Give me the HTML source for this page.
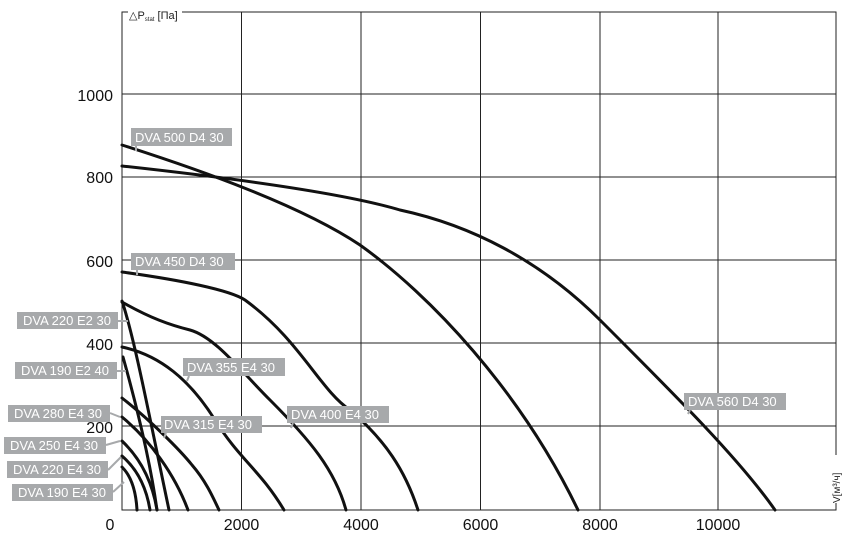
<!DOCTYPE html>
<html><head><meta charset="utf-8"><style>
body{margin:0;background:#fff}
svg{display:block;font-family:"Liberation Sans",sans-serif}
</style></head><body>
<svg width="846" height="540" viewBox="0 0 846 540">
<g stroke="#222" stroke-width="1" fill="none">
<rect x="122" y="12" width="714" height="498"/>
<line x1="241.5" y1="12" x2="241.5" y2="510"/>
<line x1="361" y1="12" x2="361" y2="510"/>
<line x1="480.5" y1="12" x2="480.5" y2="510"/>
<line x1="600" y1="12" x2="600" y2="510"/>
<line x1="718" y1="12" x2="718" y2="510"/>
<line x1="122" y1="94" x2="836" y2="94"/>
<line x1="122" y1="177" x2="836" y2="177"/>
<line x1="122" y1="260" x2="836" y2="260"/>
<line x1="122" y1="343" x2="836" y2="343"/>
<line x1="122" y1="426" x2="836" y2="426"/>
</g>
<rect x="128" y="6" width="54" height="14" fill="#fff"/>
<text x="129" y="19" font-size="11" fill="#222">△P<tspan font-size="6" dy="2">stat</tspan><tspan dy="-2"> [Па]</tspan></text>
<rect x="829" y="455" width="14" height="48" fill="#fff"/>
<text transform="translate(840,503) rotate(-90)" font-size="10" fill="#222">V[м³/ч]</text>
<g font-size="16" fill="#111" text-anchor="end">
<text x="113" y="101">1000</text>
<text x="113" y="183">800</text>
<text x="113" y="267">600</text>
<text x="113" y="350">400</text>
<text x="113" y="433">200</text>
</g>
<g font-size="16" fill="#111" text-anchor="middle">
<text x="110" y="530">0</text>
<text x="241.5" y="530">2000</text>
<text x="361" y="530">4000</text>
<text x="480.5" y="530">6000</text>
<text x="600" y="530">8000</text>
<text x="718" y="530">10000</text>
</g>
<g stroke="#111" stroke-width="3" fill="none" stroke-linecap="round">
<path d="M122,166 C250,180 350,195 400,210 C470,225 540,260 600,320 C680,400 740,460 775,510"/>
<path d="M122,145 C200,170 300,205 360,245 C430,295 520,390 578,510"/>
<path d="M122,272 C180,280 230,290 245,300 C300,340 320,390 350,410 C385,440 405,470 418,510"/>
<path d="M122,302 C150,318 170,325 190,330 C215,337 240,370 270,400 C310,440 335,470 346,510"/>
<path d="M122,347 C160,355 190,380 215,420 C240,460 260,470 284,510"/>
<path d="M122,398 C150,420 180,450 192,465 C205,480 212,495 219,510"/>
<path d="M122,417 C150,440 175,475 188,510"/>
<path d="M122,441 C140,458 152,480 157,510"/>
<path d="M122,456 C136,468 146,485 150,510"/>
<path d="M122,467 C132,477 136,492 137,510"/>
<path d="M122,301 C135,340 150,420 169,510"/>
<path d="M123,357 C135,400 150,460 157,510"/>
</g>
<g fill="#a7a9ab">
<rect x="131" y="128" width="101" height="18"/>
<rect x="131" y="253" width="104" height="17"/>
<rect x="17" y="312" width="101" height="17"/>
<rect x="15" y="362" width="102" height="17"/>
<rect x="183" y="358" width="102" height="18"/>
<rect x="8" y="405" width="102" height="17"/>
<rect x="161" y="416" width="101" height="17"/>
<rect x="4" y="437" width="102" height="17"/>
<rect x="7" y="461" width="101" height="17"/>
<rect x="12" y="484" width="101" height="17"/>
<rect x="287" y="406" width="102" height="17"/>
<rect x="684" y="393" width="102" height="17"/>
</g>
<g stroke="#a7a9ab" stroke-width="2">
<line x1="136" y1="146" x2="136" y2="151"/>
<line x1="137" y1="270" x2="137" y2="275"/>
<line x1="118" y1="321" x2="128" y2="321"/>
<line x1="117" y1="371" x2="126" y2="371"/>
<line x1="189" y1="376" x2="187" y2="381"/>
<line x1="110" y1="413" x2="120" y2="417"/>
<line x1="166" y1="433" x2="164" y2="438"/>
<line x1="106" y1="445" x2="120" y2="441"/>
<line x1="108" y1="470" x2="121" y2="457"/>
<line x1="113" y1="492" x2="124" y2="482"/>
<line x1="293" y1="423" x2="291" y2="428"/>
<line x1="690" y1="410" x2="688" y2="414"/>
</g>
<g font-size="13" fill="#fff">
<text x="135" y="142">DVA 500 D4 30</text>
<text x="135" y="266">DVA 450 D4 30</text>
<text x="23" y="325">DVA 220 E2 30</text>
<text x="21" y="375">DVA 190 E2 40</text>
<text x="187" y="372">DVA 355 E4 30</text>
<text x="14" y="418">DVA 280 E4 30</text>
<text x="164" y="429">DVA 315 E4 30</text>
<text x="10" y="450">DVA 250 E4 30</text>
<text x="13" y="474">DVA 220 E4 30</text>
<text x="18" y="497">DVA 190 E4 30</text>
<text x="291" y="419">DVA 400 E4 30</text>
<text x="688" y="406">DVA 560 D4 30</text>
</g>
</svg>
</body></html>
